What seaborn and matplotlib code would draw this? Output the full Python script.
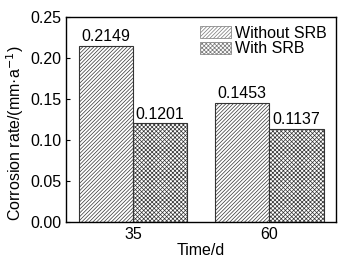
import pandas as pd
import numpy as np
import matplotlib.pyplot as plt
import seaborn as sns
from matplotlib.patches import Patch

days = ["35", "60"]
groups = ["Without SRB", "With SRB"]
without_srb = [0.2149, 0.1453]
with_srb = [0.1201, 0.1137]

df = pd.DataFrame({
    "Time": days * 2,
    "Group": [groups[0]] * 2 + [groups[1]] * 2,
    "Rate": without_srb + with_srb,
})

sns.set_style("ticks")
plt.rcParams['font.family'] = ['Liberation Sans', 'DejaVu Sans']
plt.rcParams['hatch.linewidth'] = 0.5
plt.rcParams['hatch.color'] = '#777777'
plt.rcParams['text.color'] = 'black'
plt.rcParams['axes.labelcolor'] = 'black'
plt.rcParams['xtick.color'] = 'black'
plt.rcParams['ytick.color'] = 'black'

fig, ax = plt.subplots(figsize=(3.64, 2.64), dpi=100)
sns.barplot(data=df, x="Time", y="Rate", hue="Group", ax=ax,
            color="white", edgecolor="#333333", linewidth=0.8, width=0.8,
            legend=False)

hatches = ["/////////", "xxxxxxxx"]
for cont, h in zip(ax.containers, hatches):
    for bar in cont:
        bar.set_facecolor("white")
        bar.set_hatch(h)
    ax.bar_label(cont, fmt="%.4f", fontsize=11.5, padding=1)

ax.set_xlim(-0.49, 1.49)
ax.set_ylim(0, 0.25)
ax.set_yticks(np.arange(0, 0.26, 0.05))
ax.set_yticklabels([f"{v:.2f}" for v in np.arange(0, 0.26, 0.05)])
ax.tick_params(direction="in", labelsize=11.5, length=3, width=0.8)
for s in ax.spines.values():
    s.set_linewidth(1.0)
    s.set_color("black")
ax.set_xlabel("Time/d", fontsize=11.5, labelpad=1)
ax.set_ylabel("Corrosion rate/(mm·a$^{-1}$)", fontsize=11.5)
ax.yaxis.set_label_coords(-0.15, 0.43)

handles = [Patch(facecolor="white", edgecolor="#777777", hatch=h, linewidth=0.5)
           for h in hatches]
ax.legend(handles, groups, loc="upper right", frameon=False, fontsize=11.5,
          handlelength=1.9, handleheight=0.8, handletextpad=0.3,
          labelspacing=0.05, borderaxespad=0.15)

fig.subplots_adjust(left=0.182, right=0.923, top=0.936, bottom=0.16)
fig.savefig("out.png", dpi=100)
